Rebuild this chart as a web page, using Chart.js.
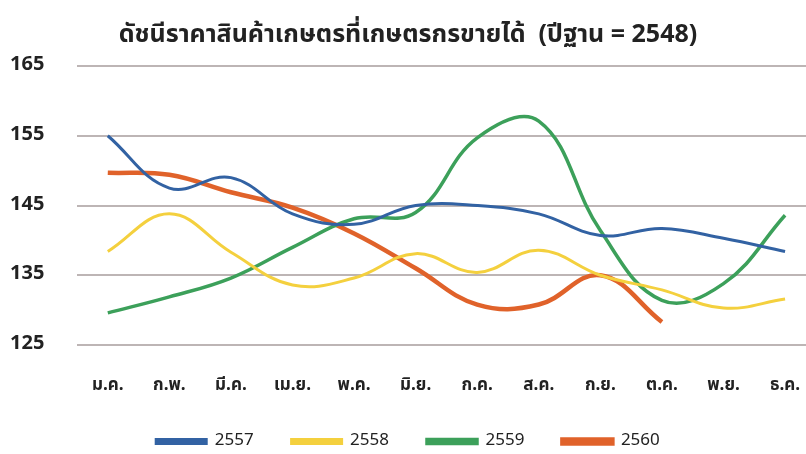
<!DOCTYPE html>
<html>
<head>
<meta charset="utf-8">
<script src="https://cdn.jsdelivr.net/npm/chart.js@4"></script>
<style>
  html, body { margin: 0; padding: 0; background: #fff; overflow: hidden; }
  #wrap { width: 806px; height: 454px; }
  canvas { display: block; }
</style>
</head>
<body>
<div id="wrap"><canvas id="myChart"></canvas></div>
<script>
const ctx = document.getElementById('myChart');

const months = ['ม.ค.', 'ก.พ.', 'มี.ค.', 'เม.ย.', 'พ.ค.', 'มิ.ย.', 'ก.ค.', 'ส.ค.', 'ก.ย.', 'ต.ค.', 'พ.ย.', 'ธ.ค.'];
const y2557 = [155, 147.5, 149, 143.8, 142.3, 145, 145, 143.8, 140.7, 141.7, 140.3, 138.4];
const y2558 = [138.4, 143.8, 138.3, 133.6, 134.6, 138.1, 135.4, 138.6, 135, 132.9, 130.3, 131.6];
const y2559 = [129.6, 131.9, 134.6, 139, 143.1, 144, 154.7, 157.1, 141.4, 131.4, 133.8, 143.6];
const y2560 = [149.7, 149.4, 146.9, 144.7, 141, 136, 130.8, 130.8, 135, 128.3];
const yTicks = [125, 135, 145, 155, 165];

const font = "'Noto Sans Thai', 'Noto Sans', 'Liberation Sans', sans-serif";

function pts(arr) {
    return arr.map((v, i) => ({ x: i, y: v }));
}

function line(label, values, color, width) {
    return {
        label: label,
        data: pts(values),
        borderColor: color,
        backgroundColor: color,
        borderWidth: width,
        pointRadius: 0,
        fill: false,
        tension: 0.4
    };
}

const myChart = new Chart(ctx, {
    type: 'line',
    data: {
        datasets: [
            line('2557', y2557, '#3262a3', 3),
            line('2558', y2558, '#f4d03e', 3),
            line('2559', y2559, '#3ca05a', 3.5),
            line('2560', y2560, '#e0622a', 4.5)
        ]
    },
    options: {
        responsive: true,
        maintainAspectRatio: false,
        animation: false,
        layout: { autoPadding: false, padding: { left: 10, right: 0, top: 0, bottom: -6 } },
        plugins: {
            title: {
                display: true,
                text: 'ดัชนีราคาสินค้าเกษตรที่เกษตรกรขายได้  (ปีฐาน = 2548)',
                color: '#222',
                font: { family: font, size: 25, weight: 'bold' },
                padding: { top: 22, bottom: 14 }
            },
            legend: {
                position: 'bottom',
                labels: {
                    boxWidth: 50,
                    boxHeight: 4,
                    padding: 38,
                    color: '#222',
                    font: { family: font, size: 17 }
                }
            },
            tooltip: { enabled: false }
        },
        scales: {
            x: {
                type: 'linear',
                min: -0.5,
                max: 11.34,
                grid: { display: false },
                border: { display: false },
                afterFit: s => {
                    s.height = 50;
                    // no side padding for edge labels, plot runs to the right edge
                    s.paddingLeft = 0;
                    s.paddingRight = 0;
                },
                ticks: {
                    stepSize: 1,
                    includeBounds: false,
                    padding: 23,
                    color: '#222',
                    font: { family: font, size: 17, weight: 'bold' },
                    callback: v => Number.isInteger(v) ? months[v] : ''
                }
            },
            y: {
                min: 125,
                max: 165,
                afterFit: s => { s.width = 67; },
                afterBuildTicks: s => { s.ticks = yTicks.map(v => ({ value: v })); },
                grid: { color: '#bdb5b5', lineWidth: 2, drawTicks: false },
                border: { display: false },
                ticks: {
                    crossAlign: 'far',
                    padding: 10,
                    color: '#222',
                    font: { family: font, size: 20, weight: 'bold' }
                }
            }
        }
    }
});
</script>
</body>
</html>
